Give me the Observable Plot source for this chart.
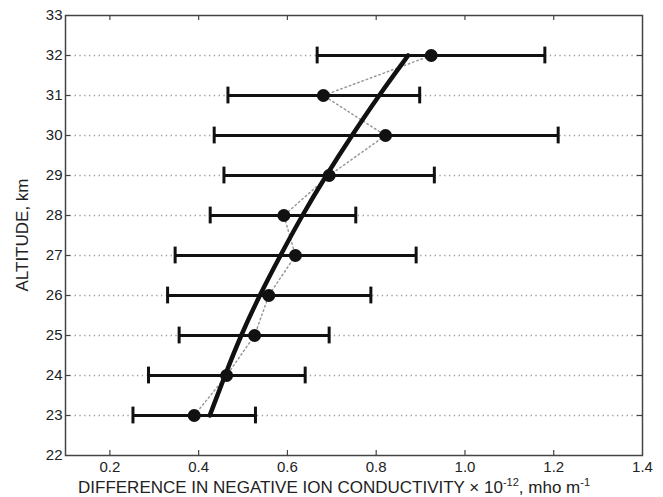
<!DOCTYPE html>
<html><head><meta charset="utf-8">
<script src="https://cdn.jsdelivr.net/npm/d3@7"></script>
<script src="https://cdn.jsdelivr.net/npm/@observablehq/plot@0.6"></script>
<style>
html,body{margin:0;padding:0;background:#fff;}
svg{font-family:"Liberation Sans",Arial,sans-serif;}
</style></head>
<body><div id="chart"></div>
<script>
const altitude = [23, 24, 25, 26, 27, 28, 29, 30, 31, 32];
const meanValue = [0.39, 0.463, 0.526, 0.558, 0.618, 0.592, 0.694, 0.821, 0.681, 0.924];
const lowValue  = [0.252, 0.287, 0.356, 0.33, 0.347, 0.426, 0.457, 0.435, 0.466, 0.667];
const highValue = [0.528, 0.64, 0.694, 0.788, 0.89, 0.754, 0.931, 1.21, 0.898, 1.18];
const fitValue  = [0.425, 0.459, 0.495, 0.537, 0.584, 0.633, 0.687, 0.745, 0.806, 0.872];
const xTicks = [0.2, 0.4, 0.6, 0.8, 1, 1.2, 1.4];
const yTicks = [22, 23, 24, 25, 26, 27, 28, 29, 30, 31, 32, 33];
const xDomain = [0.1, 1.4];
const yDomain = [22, 33];
const xLabelParts = [["DIFFERENCE IN NEGATIVE ION CONDUCTIVITY × 10", false], ["-12", true], [", mho m", false], ["-1", true]];
const yLabel = "ALTITUDE, km";

const rows = altitude.map((a, i) => ({alt: a, mean: meanValue[i], lo: lowValue[i], hi: highValue[i], fit: fitValue[i]}));

const W = 663, H = 497, mL = 65, mR = 21, mT = 15, mB = 42;
const ink = "#111";
const frameInk = "#444";
// tick length of 5px expressed in data units
const ty = (yDomain[1] - yDomain[0]) * 5 / (H - mT - mB);
const tx = (xDomain[1] - xDomain[0]) * 5 / (W - mL - mR);
const capHalf = 0.21;

const plot = Plot.plot({
  width: W, height: H,
  marginLeft: mL, marginRight: mR, marginTop: mT, marginBottom: mB,
  style: {fontFamily: '"Liberation Sans", Arial, sans-serif', fontSize: "15px", color: "#222", background: "#fff"},
  x: {domain: xDomain, label: null},
  y: {domain: yDomain, label: null},
  marks: [
    Plot.gridY(yTicks.slice(1, -1), {stroke: "#999", strokeOpacity: 1, strokeDasharray: "1.3,3.5", strokeWidth: 1.3}),
    // inward ticks on all four sides
    Plot.ruleX(xTicks.slice(0, -1), {x: d => d, y1: yDomain[0], y2: yDomain[0] + ty, stroke: frameInk, strokeWidth: 1.2}),
    Plot.ruleX(xTicks.slice(0, -1), {x: d => d, y1: yDomain[1], y2: yDomain[1] - ty, stroke: frameInk, strokeWidth: 1.2}),
    Plot.ruleY(yTicks.slice(1, -1), {y: d => d, x1: xDomain[0], x2: xDomain[0] + tx, stroke: frameInk, strokeWidth: 1.2}),
    Plot.ruleY(yTicks.slice(1, -1), {y: d => d, x1: xDomain[1], x2: xDomain[1] - tx, stroke: frameInk, strokeWidth: 1.2}),
    Plot.axisX(xTicks, {anchor: "bottom", tickSize: 0, tickPadding: 6, fontSize: 15, fill: "#222", label: null}),
    Plot.axisY(yTicks, {anchor: "left", tickSize: 0, tickPadding: 3, fontSize: 15, fill: "#222", label: null}),
    Plot.line(rows, {x: "mean", y: "alt", stroke: "#999", strokeWidth: 1.5, strokeDasharray: "1.5,3"}),
    Plot.ruleY(rows, {y: "alt", x1: "lo", x2: "hi", stroke: ink, strokeWidth: 3}),
    Plot.ruleX(rows, {x: "lo", y1: d => d.alt - capHalf, y2: d => d.alt + capHalf, stroke: ink, strokeWidth: 3}),
    Plot.ruleX(rows, {x: "hi", y1: d => d.alt - capHalf, y2: d => d.alt + capHalf, stroke: ink, strokeWidth: 3}),
    Plot.line(rows, {x: "fit", y: "alt", stroke: ink, strokeWidth: 4.5, curve: "basis"}),
    Plot.dot(rows, {x: "mean", y: "alt", r: 6.5, fill: ink, stroke: "none"}),
    Plot.frame({stroke: frameInk, strokeWidth: 1.5})
  ]
});

const svg = d3.select(plot);
const xt = svg.append("text")
  .attr("x", 78).attr("y", 493)
  .attr("text-anchor", "start")
  .attr("font-size", 17).attr("fill", "#222")
  .attr("font-family", '"Liberation Sans", Arial, sans-serif');
xLabelParts.forEach(([t, sup], i) => {
  const s = xt.append("tspan").text(t);
  if (sup) s.attr("font-size", 11).attr("dy", -7);
  else if (i > 0) s.attr("dy", 7);
});
svg.append("text")
  .attr("transform", `translate(28,${(mT + H - mB) / 2}) rotate(-90)`)
  .attr("text-anchor", "middle")
  .attr("font-size", 17).attr("fill", "#222")
  .attr("font-family", '"Liberation Sans", Arial, sans-serif')
  .text(yLabel);

document.getElementById("chart").appendChild(plot);
</script>
</body></html>
